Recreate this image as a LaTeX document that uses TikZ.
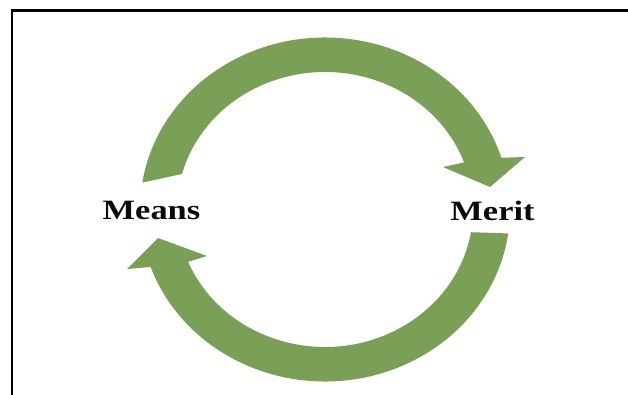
\documentclass[tikz,border=0pt]{standalone}
\usepackage{fontspec}
\setmainfont{Liberation Serif}
\usetikzlibrary{calc}
\definecolor{cgreen}{RGB}{122,160,88}
\definecolor{cink}{HTML}{0B0B0B}
\tikzset{
  cband/.style={fill=cgreen, draw=none},
  clabel/.style={text=cink, anchor=base, inner sep=0pt,
    font=\fontsize{28}{30}\selectfont\bfseries},
  cframe/.style={draw=black, line width=2.5pt},
}
\newcommand{\wide}[1]{\scalebox{1.23}[1]{#1}}

\begin{document}
\begin{tikzpicture}[x=1pt,y=1pt]
\useasboundingbox (0,0) rectangle (628,394);
\clip (0,0) rectangle (628,394);
\draw[cframe] (12,-10) |- (640,383.5);

\coordinate (hub) at (325,184.5);
\node[clabel] (means) at (151.5,175) {\wide{Means}};
\node[clabel] (merit) at (492.5,174) {\wide{Merit}};

% upper arc, Means to Merit
\fill[cband] ($(hub)+(171:185pt and 172pt)$)
  arc[start angle=171, end angle=17.5, x radius=185pt, y radius=172pt]
  -- ($(hub)+(200,52.5)$) -- ($(hub)+(165,22.5)$) -- ($(hub)+(118,42.5)$)
  -- ($(hub)+(20:148pt and 137.5pt)$)
  arc[start angle=20, end angle=165, x radius=148pt, y radius=137.5pt]
  -- cycle;

% lower arc, Merit back to Means
\fill[cband] ($(hub)+(-8:185pt and 172pt)$)
  arc[start angle=-8, end angle=-160.5, x radius=185pt, y radius=172pt]
  -- ($(hub)+(-198,-59.5)$) -- ($(hub)+(-167,-28.5)$) -- ($(hub)+(-118,-46.5)$)
  -- ($(hub)+(-157.6:148pt and 137.5pt)$)
  arc[start angle=-157.6, end angle=-9.5, x radius=148pt, y radius=137.5pt]
  -- cycle;

\end{tikzpicture}
\end{document}
